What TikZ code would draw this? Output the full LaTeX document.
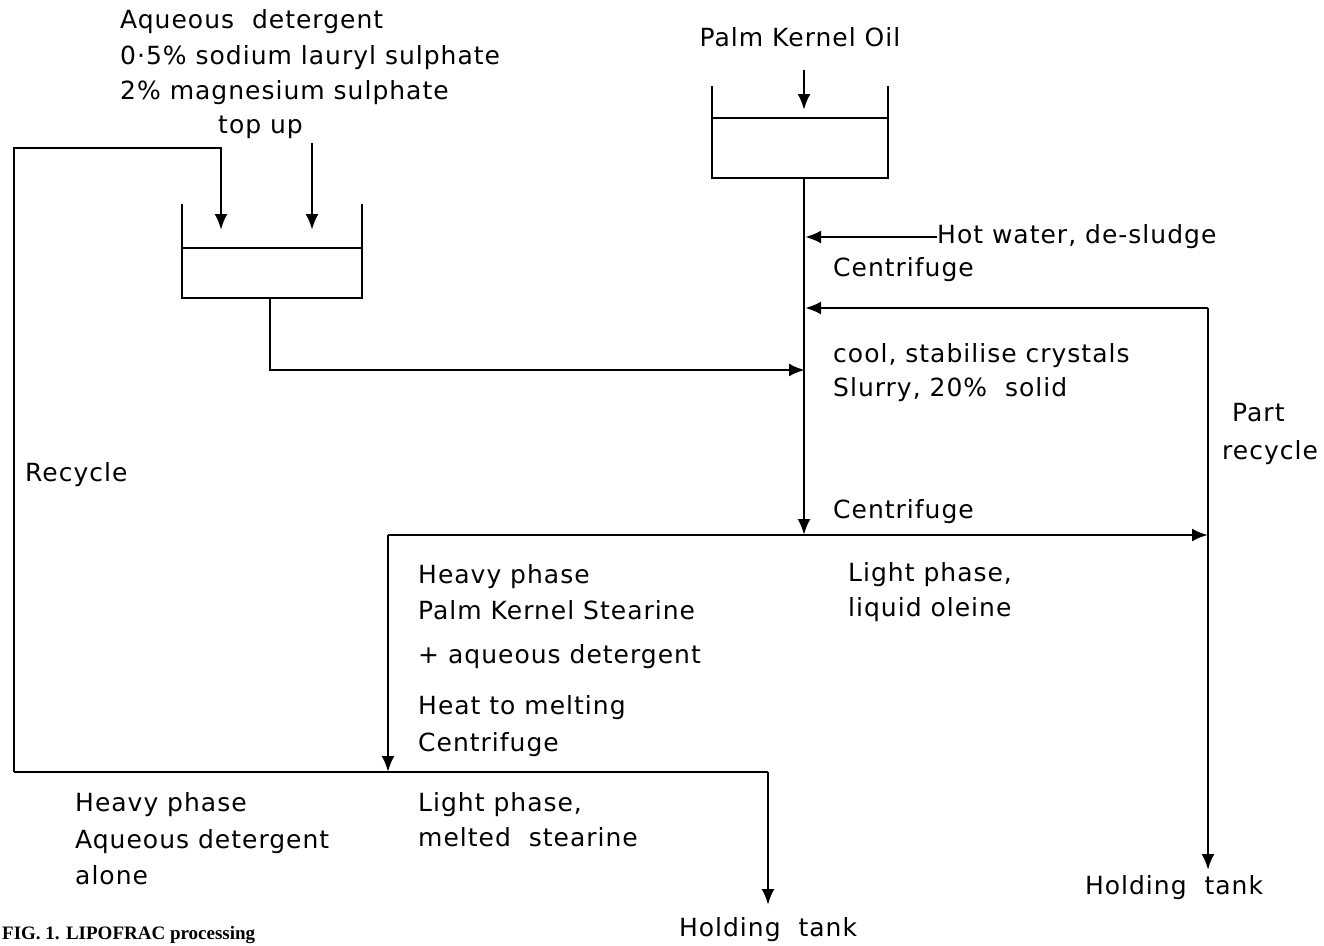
\documentclass[tikz,border=0pt]{standalone}
\usepackage{fontspec}
\setmainfont[LetterSpace=4]{DejaVu Sans}
\newfontfamily\capfont{Liberation Serif}
\usetikzlibrary{arrows.meta}
\tikzset{
  flow/.style={line width=2.6pt},
  feed/.style={flow,-{Latex[length=16pt,width=13pt]}},
  tankwall/.style={line width=2.6pt},
  lbl/.style={anchor=west,inner sep=0pt,text height=18pt,text depth=5pt,font=\fontsize{25}{29}\selectfont}
}
\begin{document}
\begin{tikzpicture}[x=1pt,y=-1pt]
\useasboundingbox (0,0) rectangle (1324,945);
% tanks
\draw[tankwall] (182,204) -- (182,298) -- (362,298) -- (362,204);
\draw[tankwall] (182,248) -- (362,248);
\draw[tankwall] (712,86) -- (712,178) -- (888,178) -- (888,86);
\draw[tankwall] (712,118) -- (888,118);
% junctions
\coordinate (rcBot) at (14,772);
\coordinate (rcTop) at (14,148);
\coordinate (detIn) at (221,230);
\coordinate (topupTop) at (312,143);
\coordinate (topupIn) at (312,230);
\coordinate (oilTop) at (804,70);
\coordinate (oilIn) at (804,110);
\coordinate (oilOut) at (804,178);
\coordinate (hwIn) at (805,237);
\coordinate (rcyIn) at (805,308);
\coordinate (rcyTurn) at (1208,308);
\coordinate (detOut) at (270,298);
\coordinate (detJoin) at (805,370);
\coordinate (split) at (804,535);
\coordinate (leftTurn) at (388,535);
\coordinate (rightTurn) at (1208,535);
\coordinate (holdR) at (1208,870);
\coordinate (meltSplit) at (388,772);
\coordinate (botRight) at (768,772);
\coordinate (holdL) at (768,905);
% labels
\node[lbl] (aq1) at (120,22) {Aqueous\ \ detergent};
\node[lbl] (aq2) at (120,58) {0·5\% sodium lauryl sulphate};
\node[lbl] (aq3) at (120,93) {2\% magnesium sulphate};
\node[lbl] (topup) at (218,127) {top up};
\node[lbl,anchor=center] (oil) at (800,40) {Palm Kernel Oil};
\node[lbl] (hotwater) at (937,237) {Hot water, de-sludge};
\node[lbl] (cent1) at (833,270) {Centrifuge};
\node[lbl] (cool) at (833,356) {cool, stabilise crystals};
\node[lbl] (slurry) at (833,390) {Slurry, 20\%\ \ solid};
\node[lbl] (part) at (1232,415) {Part};
\node[lbl] (partrcy) at (1222,453) {recycle};
\node[lbl] (recycle) at (25,475) {Recycle};
\node[lbl] (cent2) at (833,512) {Centrifuge};
\node[lbl] (hv1) at (418,577) {Heavy phase};
\node[lbl] (hv2) at (418,613) {Palm Kernel Stearine};
\node[lbl] (hv3) at (418,657) {+ aqueous detergent};
\node[lbl] (heat) at (418,708) {Heat to melting};
\node[lbl] (cent3) at (418,745) {Centrifuge};
\node[lbl] (lt1) at (848,575) {Light phase,};
\node[lbl] (lt2) at (848,610) {liquid oleine};
\node[lbl] (hb1) at (75,805) {Heavy phase};
\node[lbl] (hb2) at (75,842) {Aqueous detergent};
\node[lbl] (hb3) at (75,878) {alone};
\node[lbl] (lb1) at (418,805) {Light phase,};
\node[lbl] (lb2) at (418,840) {melted\ \ stearine};
\node[lbl,anchor=center] (tankL) at (768,930) {Holding\ \ tank};
\node[lbl,anchor=center] (tankR) at (1174,888) {Holding\ \ tank};
\node[anchor=base west,inner sep=0pt,font=\capfont\bfseries\fontsize{19}{22}\selectfont] (caption) at (2,939) {FIG. 1. LIPOFRAC processing};
% flows
\draw[feed] (rcBot) -- (rcTop) -| (detIn);
\draw[feed] (topupTop) -- (topupIn);
\draw[feed] (oilTop) -- (oilIn);
\draw[feed] (oilOut) -- (split);
\draw[feed] (hotwater.west) -- (hwIn);
\draw[feed] (rcyTurn) -- (rcyIn);
\draw[feed] (detOut) |- (detJoin);
\draw[feed] (leftTurn) -- (rightTurn);
\draw[feed] (rcyTurn) -- (holdR);
\draw[feed] (leftTurn) -- (meltSplit);
\draw[flow] (rcBot) -- (botRight);
\draw[feed] (botRight) -- (holdL);
\end{tikzpicture}
\end{document}
